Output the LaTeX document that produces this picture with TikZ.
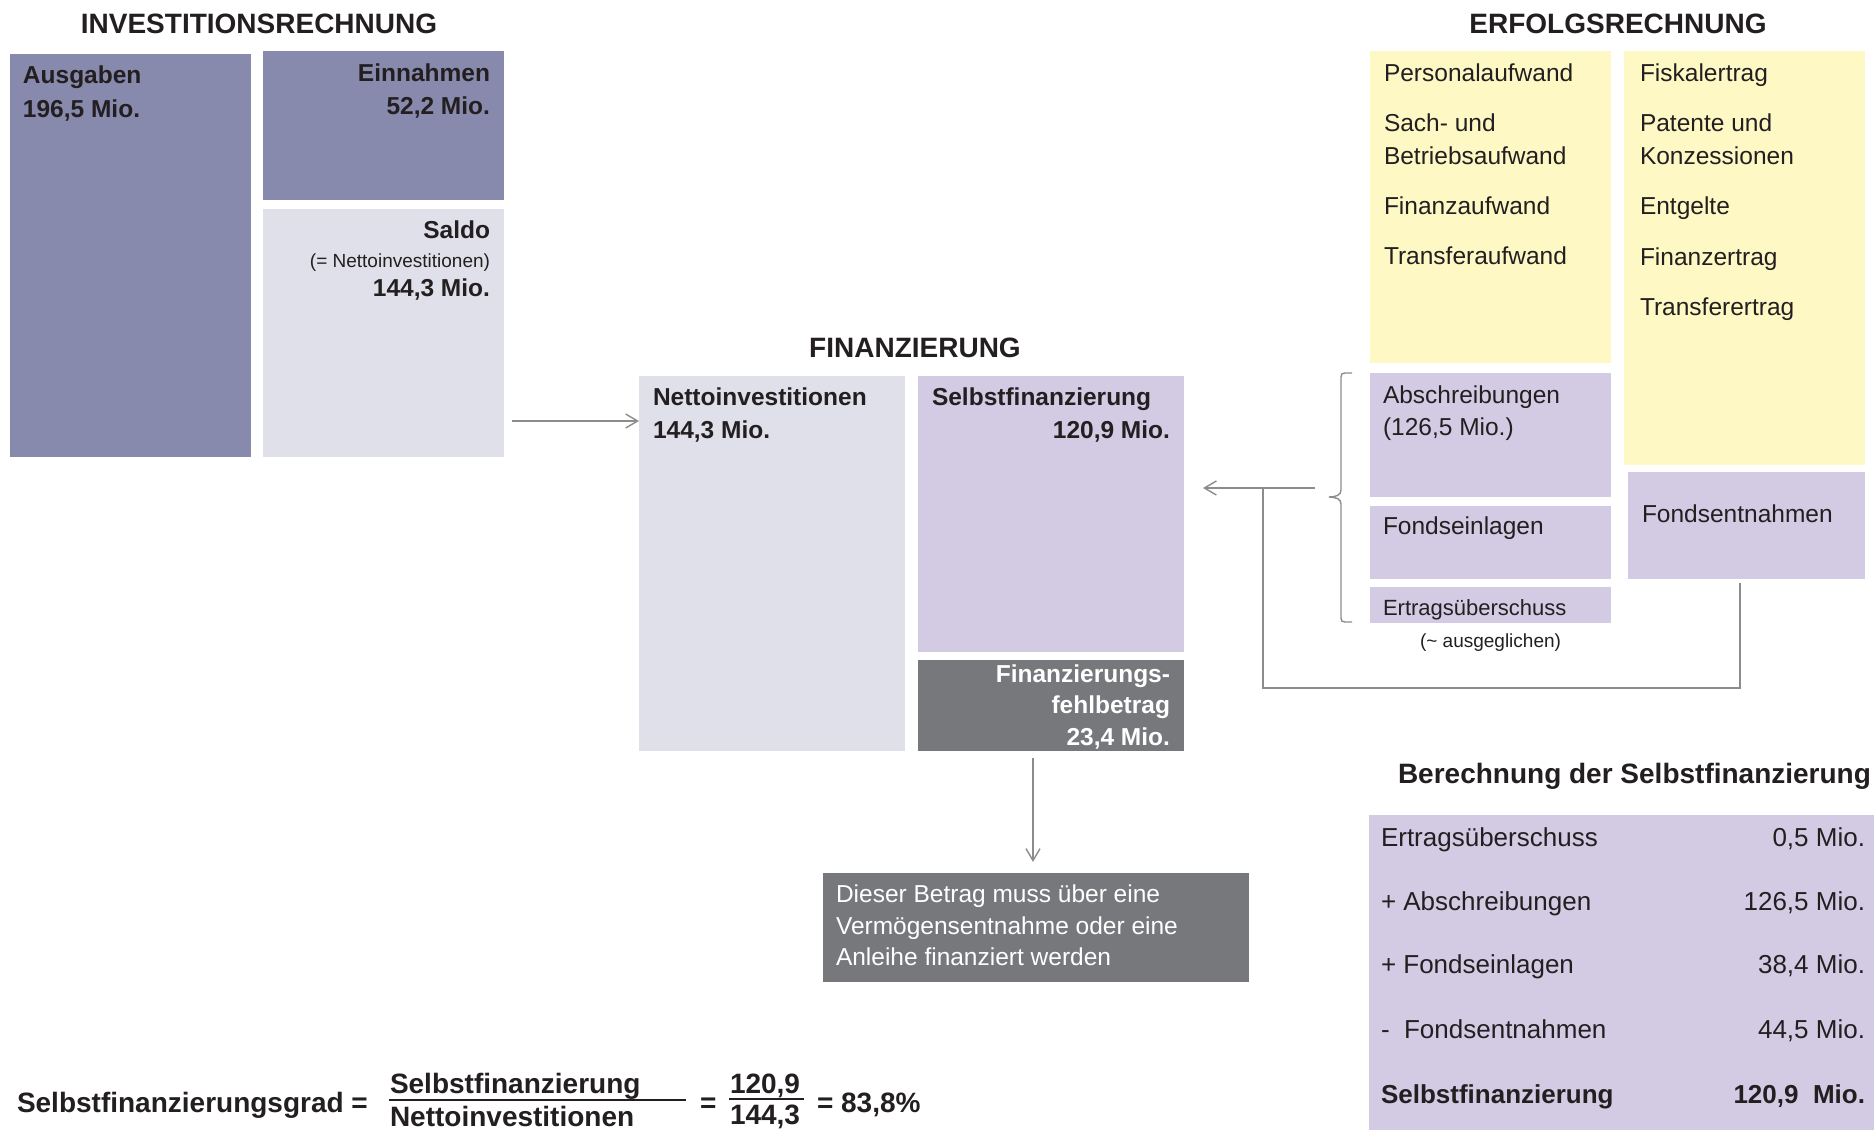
\documentclass[tikz,border=0pt]{standalone}
\usepackage{fontspec}
\setmainfont{Liberation Sans}
\usetikzlibrary{arrows.meta}

\definecolor{slate}{RGB}{135,137,173}
\definecolor{pale}{RGB}{224,224,235}
\definecolor{lilac}{RGB}{211,202,228}
\definecolor{cream}{RGB}{253,248,196}
\definecolor{slategray}{RGB}{119,120,123}
\definecolor{wire}{RGB}{140,140,140}
\definecolor{ink}{RGB}{35,31,32}

\newcommand\fsz[1]{\fontsize{#1}{#1}\selectfont}

\tikzset{
  blk/.style={rectangle, draw=none, inner sep=0pt, outer sep=0pt, anchor=north west},
  lbl/.style={inner sep=0pt, outer sep=0pt, text=ink, font=\fsz{24.5}},
  bld/.style={lbl, font=\fsz{24.5}\bfseries},
  head/.style={lbl, font=\fsz{28}\bfseries, anchor=base},
  small/.style={lbl, font=\fsz{19}},
  tab/.style={lbl, font=\fsz{26}},
  formula/.style={lbl, font=\fsz{28}\bfseries, anchor=base west},
  wireline/.style={draw=wire, line width=1.6pt},
  arr/.style={wireline, -{Straight Barb[length=12pt,width=14pt,line width=1.4pt]}},
}

\begin{document}
\begin{tikzpicture}[x=1pt, y=-1pt]
\useasboundingbox (0,0) rectangle (1874,1130);
\clip (0,0) rectangle (1874,1130);
\fill[white] (0,0) rectangle (1874,1130);

% ---------------- Investitionsrechnung
\node[head] (tinv) at (259,33) {INVESTITIONSRECHNUNG};
\node[blk, fill=slate, minimum width=241pt, minimum height=403pt] (aus) at (10,54) {};
\node[blk, fill=slate, minimum width=241pt, minimum height=149pt] (ein) at (263,51) {};
\node[blk, fill=pale,  minimum width=241pt, minimum height=248pt] (sal) at (263,209) {};

\node[bld, anchor=base west] (ausT) at (23,83)  {Ausgaben};
\node[bld, anchor=base west] (ausV) at (23,117) {196,5 Mio.};
\node[bld, anchor=base east] (einT) at (490,81)  {Einnahmen};
\node[bld, anchor=base east] (einV) at (490,114) {52,2 Mio.};
\node[bld, anchor=base east] (salT) at (490,238) {Saldo};
\node[small, anchor=base east] (salN) at (490,267) {(= Nettoinvestitionen)};
\node[bld, anchor=base east] (salV) at (490,296) {144,3 Mio.};

% ---------------- Finanzierung
\node[head] (tfin) at (915,357) {FINANZIERUNG};
\node[blk, fill=pale,      minimum width=266pt, minimum height=375pt] (net) at (639,376) {};
\node[blk, fill=lilac,     minimum width=266pt, minimum height=276pt] (sel) at (918,376) {};
\node[blk, fill=slategray, minimum width=266pt, minimum height=91pt]  (feh) at (918,660) {};

\node[bld, anchor=base west] (netT) at (653,405) {Nettoinvestitionen};
\node[bld, anchor=base west] (netV) at (653,438) {144,3 Mio.};
\node[bld, anchor=base west] (selT) at (932,405) {Selbstfinanzierung};
\node[bld, anchor=base east] (selV) at (1170,438) {120,9 Mio.};
\node[bld, text=white, anchor=base east] (fehA) at (1170,682) {Finanzierungs-};
\node[bld, text=white, anchor=base east] (fehB) at (1170,713) {fehlbetrag};
\node[bld, text=white, anchor=base east] (fehV) at (1170,745) {23,4 Mio.};

\node[blk, fill=slategray, minimum width=426pt, minimum height=109pt] (note) at (823,873) {};
\node[lbl, text=white, anchor=base west] (noteA) at (836,902) {Dieser Betrag muss über eine};
\node[lbl, text=white, anchor=base west] (noteB) at (836,934) {Vermögensentnahme oder eine};
\node[lbl, text=white, anchor=base west] (noteC) at (836,965) {Anleihe finanziert werden};

% ---------------- Erfolgsrechnung
\node[head] (terf) at (1618,33) {ERFOLGSRECHNUNG};
\node[blk, fill=cream, minimum width=241pt, minimum height=312pt] (auf) at (1370,51) {};
\node[blk, fill=cream, minimum width=241pt, minimum height=414pt] (ertr) at (1624,51) {};
\node[blk, fill=lilac, minimum width=241pt, minimum height=124pt] (abs) at (1370,373) {};
\node[blk, fill=lilac, minimum width=241pt, minimum height=73pt]  (fei) at (1370,506) {};
\node[blk, fill=lilac, minimum width=241pt, minimum height=36pt]  (ues) at (1370,587) {};
\node[blk, fill=lilac, minimum width=237pt, minimum height=107pt] (fen) at (1628,472) {};

\node[lbl, anchor=base west] (aufA) at (1384,81)  {Personalaufwand};
\node[lbl, anchor=base west] (aufB) at (1384,131) {Sach- und};
\node[lbl, anchor=base west] (aufC) at (1384,164) {Betriebsaufwand};
\node[lbl, anchor=base west] (aufD) at (1384,214) {Finanzaufwand};
\node[lbl, anchor=base west] (aufE) at (1384,264) {Transferaufwand};

\node[lbl, anchor=base west] (ertA) at (1640,81)  {Fiskalertrag};
\node[lbl, anchor=base west] (ertB) at (1640,131) {Patente und};
\node[lbl, anchor=base west] (ertC) at (1640,164) {Konzessionen};
\node[lbl, anchor=base west] (ertD) at (1640,214) {Entgelte};
\node[lbl, anchor=base west] (ertE) at (1640,265) {Finanzertrag};
\node[lbl, anchor=base west] (ertF) at (1640,315) {Transferertrag};

\node[lbl, anchor=base west] (absT) at (1383,403) {Abschreibungen};
\node[lbl, anchor=base west] (absV) at (1383,435) {(126,5 Mio.)};
\node[lbl, anchor=base west] (feiT) at (1383,534) {Fondseinlagen};
\node[lbl, font=\fsz{22}, anchor=base west] (uesT) at (1383,615) {Ertragsüberschuss};
\node[small, anchor=base west] (uesN) at (1420,647) {(\textasciitilde{} ausgeglichen)};
\node[lbl, anchor=base west] (fenT) at (1642,522) {Fondsentnahmen};

% bracket grouping Abschreibungen, Fondseinlagen, Ertragsüberschuss
\draw[wireline, line width=1.4pt]
  (1352,373) -- (1345,373) .. controls (1342,373) and (1341,374) .. (1341,377)
  -- (1341,490) .. controls (1341,495) and (1336,497) .. (1329,497)
  .. controls (1336,497) and (1341,499) .. (1341,504)
  -- (1341,618) .. controls (1341,621) and (1342,622) .. (1345,622) -- (1352,622);

% ---------------- connectors
\coordinate (a1) at (512,421);
\draw[arr] (a1) -- (a1 -| net.west);

\coordinate (d1) at (1033,758);
\draw[arr, shorten >=11pt] (d1) -- (d1 |- note.north);

\coordinate (bt) at (1315,488);
\draw[arr, shorten >=19pt] (bt) -- (bt -| sel.east);

\coordinate (fj) at (1740,583);
\coordinate (jn) at (1263,488);
\draw[wireline] (fj) -- ++(0,105) -| (jn);

% ---------------- Berechnung der Selbstfinanzierung
\node[head, anchor=base west] (tber) at (1398,783) {Berechnung der Selbstfinanzierung};
\node[blk, fill=lilac, minimum width=505pt, minimum height=315pt] (calc) at (1369,815) {};

\node[tab, anchor=base west] (r1L) at (1381,846)  {Ertragsüberschuss};
\node[tab, anchor=base east] (r1R) at (1865,846)  {0,5 Mio.};
\node[tab, anchor=base west] (r2L) at (1381,910)  {+ Abschreibungen};
\node[tab, anchor=base east] (r2R) at (1865,910)  {126,5 Mio.};
\node[tab, anchor=base west] (r3L) at (1381,973)  {+ Fondseinlagen};
\node[tab, anchor=base east] (r3R) at (1865,973)  {38,4 Mio.};
\node[tab, anchor=base west] (r4L) at (1381,1038) {-~~Fondsentnahmen};
\node[tab, anchor=base east] (r4R) at (1865,1038) {44,5 Mio.};
\node[tab, font=\fsz{26}\bfseries, anchor=base west] (r5L) at (1381,1103) {Selbstfinanzierung};
\node[tab, font=\fsz{26}\bfseries, anchor=base east] (r5R) at (1865,1103) {120,9~~Mio.};

% ---------------- Selbstfinanzierungsgrad
\node[formula] (fgrad) at (17,1112)  {Selbstfinanzierungsgrad =};
\node[formula] (fnum)  at (390,1093) {Selbstfinanzierung};
\node[formula] (fden)  at (390,1126) {Nettoinvestitionen};
\draw[ink, line width=2pt] (389,1100) -- (686,1100);
\node[formula] (feq)   at (700,1112) {=};
\node[formula] (vnum)  at (730,1093) {120,9};
\node[formula] (vden)  at (730,1124) {144,3};
\draw[ink, line width=2pt] (729,1099) -- (804,1099);
\node[formula] (fres)  at (817,1112) {= 83,8\%};
\end{tikzpicture}
\end{document}
